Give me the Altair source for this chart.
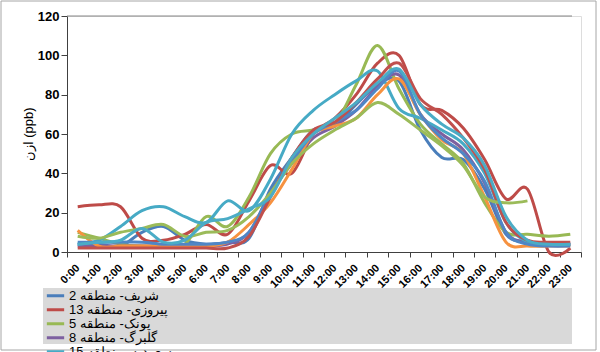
import altair as alt
import pandas as pd

hours = ["0:00", "1:00", "2:00", "3:00", "4:00", "5:00", "6:00", "7:00",
         "8:00", "9:00", "10:00", "11:00", "12:00", "13:00", "14:00", "15:00",
         "16:00", "17:00", "18:00", "19:00", "20:00", "21:00", "22:00", "23:00"]

names = ["شریف- منطقه 2", "پیروزی- منطقه 13", "پونک- منطقه 5", "گلبرگ- منطقه 8",
         "مسعودیه- منطقه 15", "شهرداری- منطقه 7", "تربیت مدرس- منطقه 6",
         "آزادی- منطقه 9", "اقدسیه- منطقه 1", "دروس- منطقه 3"]

colors = ["#4A7EBB", "#BE4B48", "#98B954", "#7D60A0", "#46AAC5",
          "#F69240", "#4F86C6", "#C0504D", "#9BBB59", "#4BACC6"]

s_sharif = [4, 4, 3, 10, 13, 6, 4, 5, 7, 32, 48, 62, 64, 75, 85, 87, 62, 48, 47, 32, 9, 5, 4, 4]
s_pirouzi = [23, 24, 23, 7, 6, 9, 14, 9, 26, 44, 40, 60, 68, 80, 96, 100, 75, 72, 63, 47, 27, 32, 0, 2]
s_pounak = [10, 7, 4, 3, 3, 4, 18, 13, 28, 50, 60, 62, 65, 85, 105, 83, 65, 55, 45, 25, 10, 9, 8, 9]
s_golbarg = [3, 3, 3, 3, 3, 3, 3, 4, 10, 30, 45, 58, 64, 72, 84, 90, 70, 60, 52, 35, 10, 5, 4, 4]
s_masoudieh = [4, 6, 13, 21, 23, 18, 15, 26, 21, 37, 60, 72, 80, 87, 92, 73, 68, 62, 55, 40, 15, 5, 4, 4]
s_region7 = [11, 3, 3, 3, 3, 3, 3, 5, 14, 25, 42, 60, 64, 68, 80, 88, 70, 57, 50, 28, 5, 3, 3, 3]
s_modares = [5, 5, 5, 5, 4, 4, 4, 5, 10, 30, 46, 60, 66, 72, 83, 92, 70, 58, 50, 36, 10, 4, 3, 3]
s_azadi = [2, 2, 2, 2, 2, 2, 2, 2, 8, 28, 48, 62, 66, 76, 88, 96, 78, 70, 58, 42, 15, 6, 5, 5]
s_aghdasieh = [8, 7, 10, 12, 14, 8, 10, 11, 18, 30, 45, 55, 62, 68, 76, 70, 62, 54, 44, 28, 25, 26, None, None]
s_darous = [4, 5, 6, 12, 5, 6, 15, 17, 22, 28, 48, 60, 68, 76, 86, 93, 75, 65, 58, 44, 18, 6, 4, 4]

series = [s_sharif, s_pirouzi, s_pounak, s_golbarg, s_masoudieh,
          s_region7, s_modares, s_azadi, s_aghdasieh, s_darous]

rows = []
for name, vals in zip(names, series):
    for h, v in zip(hours, vals):
        if v is not None:
            rows.append({"hour": h, "station": name, "o3": v})
df = pd.DataFrame(rows)

font = "Liberation Sans"

lines = alt.Chart(df).mark_line(strokeWidth=3, interpolate="cardinal").encode(
    x=alt.X("hour:N", sort=hours,
            scale=alt.Scale(type="band", paddingInner=0, paddingOuter=0),
            axis=alt.Axis(title=None, labelAngle=-45, labelAlign="right",
                          labelBaseline="middle", labelFont=font,
                          labelFontWeight="bold", labelFontSize=11,
                          labelColor="black", tickBand="extent",
                          tickColor="#404040", domainColor="#404040",
                          tickSize=5, labelPadding=9)),
    y=alt.Y("o3:Q", scale=alt.Scale(domain=[0, 120], nice=False),
            axis=alt.Axis(values=[0, 20, 40, 60, 80, 100, 120],
                          title="ازن (ppb)", titleFont=font, titleFontSize=13,
                          titleFontWeight="normal", titleColor="black",
                          titlePadding=2, labelFont=font, labelFontSize=13,
                          labelFontWeight="bold", labelColor="black",
                          tickColor="#404040", domainColor="#404040",
                          tickSize=6, labelPadding=2, grid=False)),
    color=alt.Color("station:N", sort=names,
                    scale=alt.Scale(domain=names, range=colors),
                    legend=alt.Legend(orient="none", legendX=-22, legendY=273,
                                      title=None, symbolType="stroke",
                                      symbolStrokeWidth=3, symbolSize=300,
                                      labelFont=font, labelFontSize=13,
                                      labelColor="black", rowPadding=0,
                                      clipHeight=13.3,
                                      labelOffset=3, labelLimit=400)),
)

one = pd.DataFrame({"k": [0]})

legend_box = alt.Chart(one).mark_rect(color="#D9D9D9").encode(
    x=alt.value(-24), x2=alt.value(505), y=alt.value(272), y2=alt.value(328))

outer = alt.Chart(one).mark_rect(fillOpacity=0, stroke="#A6A6A6", strokeWidth=1).encode(
    x=alt.value(-66), x2=alt.value(529), y=alt.value(-15), y2=alt.value(334))

top_line = alt.Chart(one).mark_rule(color="#868686", strokeWidth=1).encode(
    x=alt.value(0), x2=alt.value(505), y=alt.value(0))

chart = alt.layer(outer, legend_box, top_line, lines).properties(
    width=514, height=236,
    padding={"left": 67, "top": 16, "right": 19, "bottom": 100},
    autosize=alt.AutoSizeParams(type="none"),
).configure_view(strokeWidth=0).configure(background="white")

chart.save("out.html", embed_options={"renderer": "svg", "actions": False})
